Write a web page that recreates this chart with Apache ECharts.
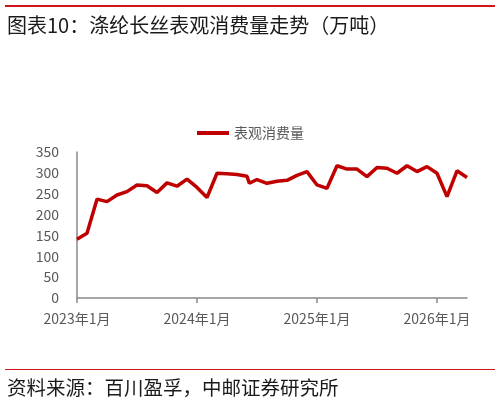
<!DOCTYPE html>
<html>
<head>
<meta charset="utf-8">
<script src="https://cdn.jsdelivr.net/npm/echarts@6/dist/echarts.min.js"></script>
<style>
html,body{margin:0;padding:0;background:#fff;}
#c{width:500px;height:404px;}
</style>
</head>
<body>
<div id="c"></div>
<script>
// Data
const dates = [
  '2023-01-01','2023-02-01','2023-03-01','2023-04-01','2023-05-01','2023-06-01',
  '2023-07-01','2023-08-01','2023-09-01','2023-10-01','2023-11-01','2023-12-01',
  '2024-01-01','2024-02-01','2024-03-01','2024-04-01','2024-05-01','2024-06-01','2024-06-08',
  '2024-07-01','2024-08-01','2024-09-01','2024-10-01','2024-11-01','2024-12-01',
  '2025-01-01','2025-02-01','2025-03-01','2025-04-01','2025-05-01','2025-06-01',
  '2025-07-01','2025-08-01','2025-09-01','2025-10-01','2025-11-01','2025-12-01',
  '2026-01-01','2026-02-01','2026-03-01','2026-04-01'
];
const consumption = [
  141,155,237,231,247,255,
  271,269,253,276,268,285,
  265,241,299,298,296,292,275,
  284,275,280,282,294,303,
  271,263,317,309,309,291,
  313,311,299,317,303,315,
  299,243,305,289
];
const tickLabels = ['2023年1月','2024年1月','2025年1月','2026年1月'];
const tickPositions = [0,12,24,36];
const seriesName = '表观消费量';
const titleText = '图表10：涤纶长丝表观消费量走势（万吨）';
const sourceText = '资料来源：百川盈孚，中邮证券研究所';

function monthIndex(s){
  const p = s.split('-').map(Number);
  return (p[0]-2023)*12 + (p[1]-1) + (p[2]-1)/30;
}
const points = dates.map((d,i)=>[monthIndex(d), consumption[i]]);
const lastX = monthIndex(dates[dates.length-1]);

const chart = echarts.init(document.getElementById('c'), null, {renderer:'canvas'});
const fontCJK = '"Noto Sans CJK SC", "Noto Sans", sans-serif';
chart.setOption({
  animation:false,
  backgroundColor:'#fff',
  grid:{left:77, right:33, top:152, bottom:106, containLabel:false},
  legend:{
    data:[seriesName], top:121, left:192,
    itemWidth:32, itemHeight:4, itemGap:5,
    icon:'rect',
    textStyle:{color:'#595959', fontSize:14, fontFamily:fontCJK}
  },
  xAxis:{
    type:'value', min:0, max:lastX,
    splitLine:{show:false},
    axisLine:{lineStyle:{color:'#898989', width:1.5}},
    axisTick:{show:true, length:5, inside:false, lineStyle:{color:'#898989', width:1.5}, customValues:tickPositions},
    axisLabel:{
      color:'#595959', fontSize:14, fontFamily:fontCJK, margin:14,
      customValues:tickPositions,
      formatter:function(v){ const k=tickPositions.indexOf(Math.round(v)); return k>=0?tickLabels[k]:''; }
    }
  },
  yAxis:{
    type:'value', min:0, max:350, interval:50,
    splitLine:{show:false},
    axisLine:{show:true, lineStyle:{color:'#898989', width:1.5}},
    axisTick:{show:false},
    axisLabel:{color:'#595959', fontSize:14, fontFamily:fontCJK, margin:18}
  },
  series:[{
    name:seriesName, type:'line', data:points,
    showSymbol:false, symbol:'none',
    lineStyle:{color:'#c00000', width:3.5},
    itemStyle:{color:'#c00000'}
  }],
  graphic:[
    {type:'rect', shape:{x:5, y:5, width:490, height:2}, style:{fill:'#d0161b'}},
    {type:'text', left:7, top:15, style:{text:titleText, fill:'#1a1a1a', font:'20px '+fontCJK}},
    {type:'rect', shape:{x:5, y:369, width:490, height:1}, style:{fill:'#d0161b'}},
    {type:'text', left:7, top:378, style:{text:sourceText, fill:'#1a1a1a', font:'19.5px '+fontCJK}}
  ]
});
</script>
</body>
</html>
